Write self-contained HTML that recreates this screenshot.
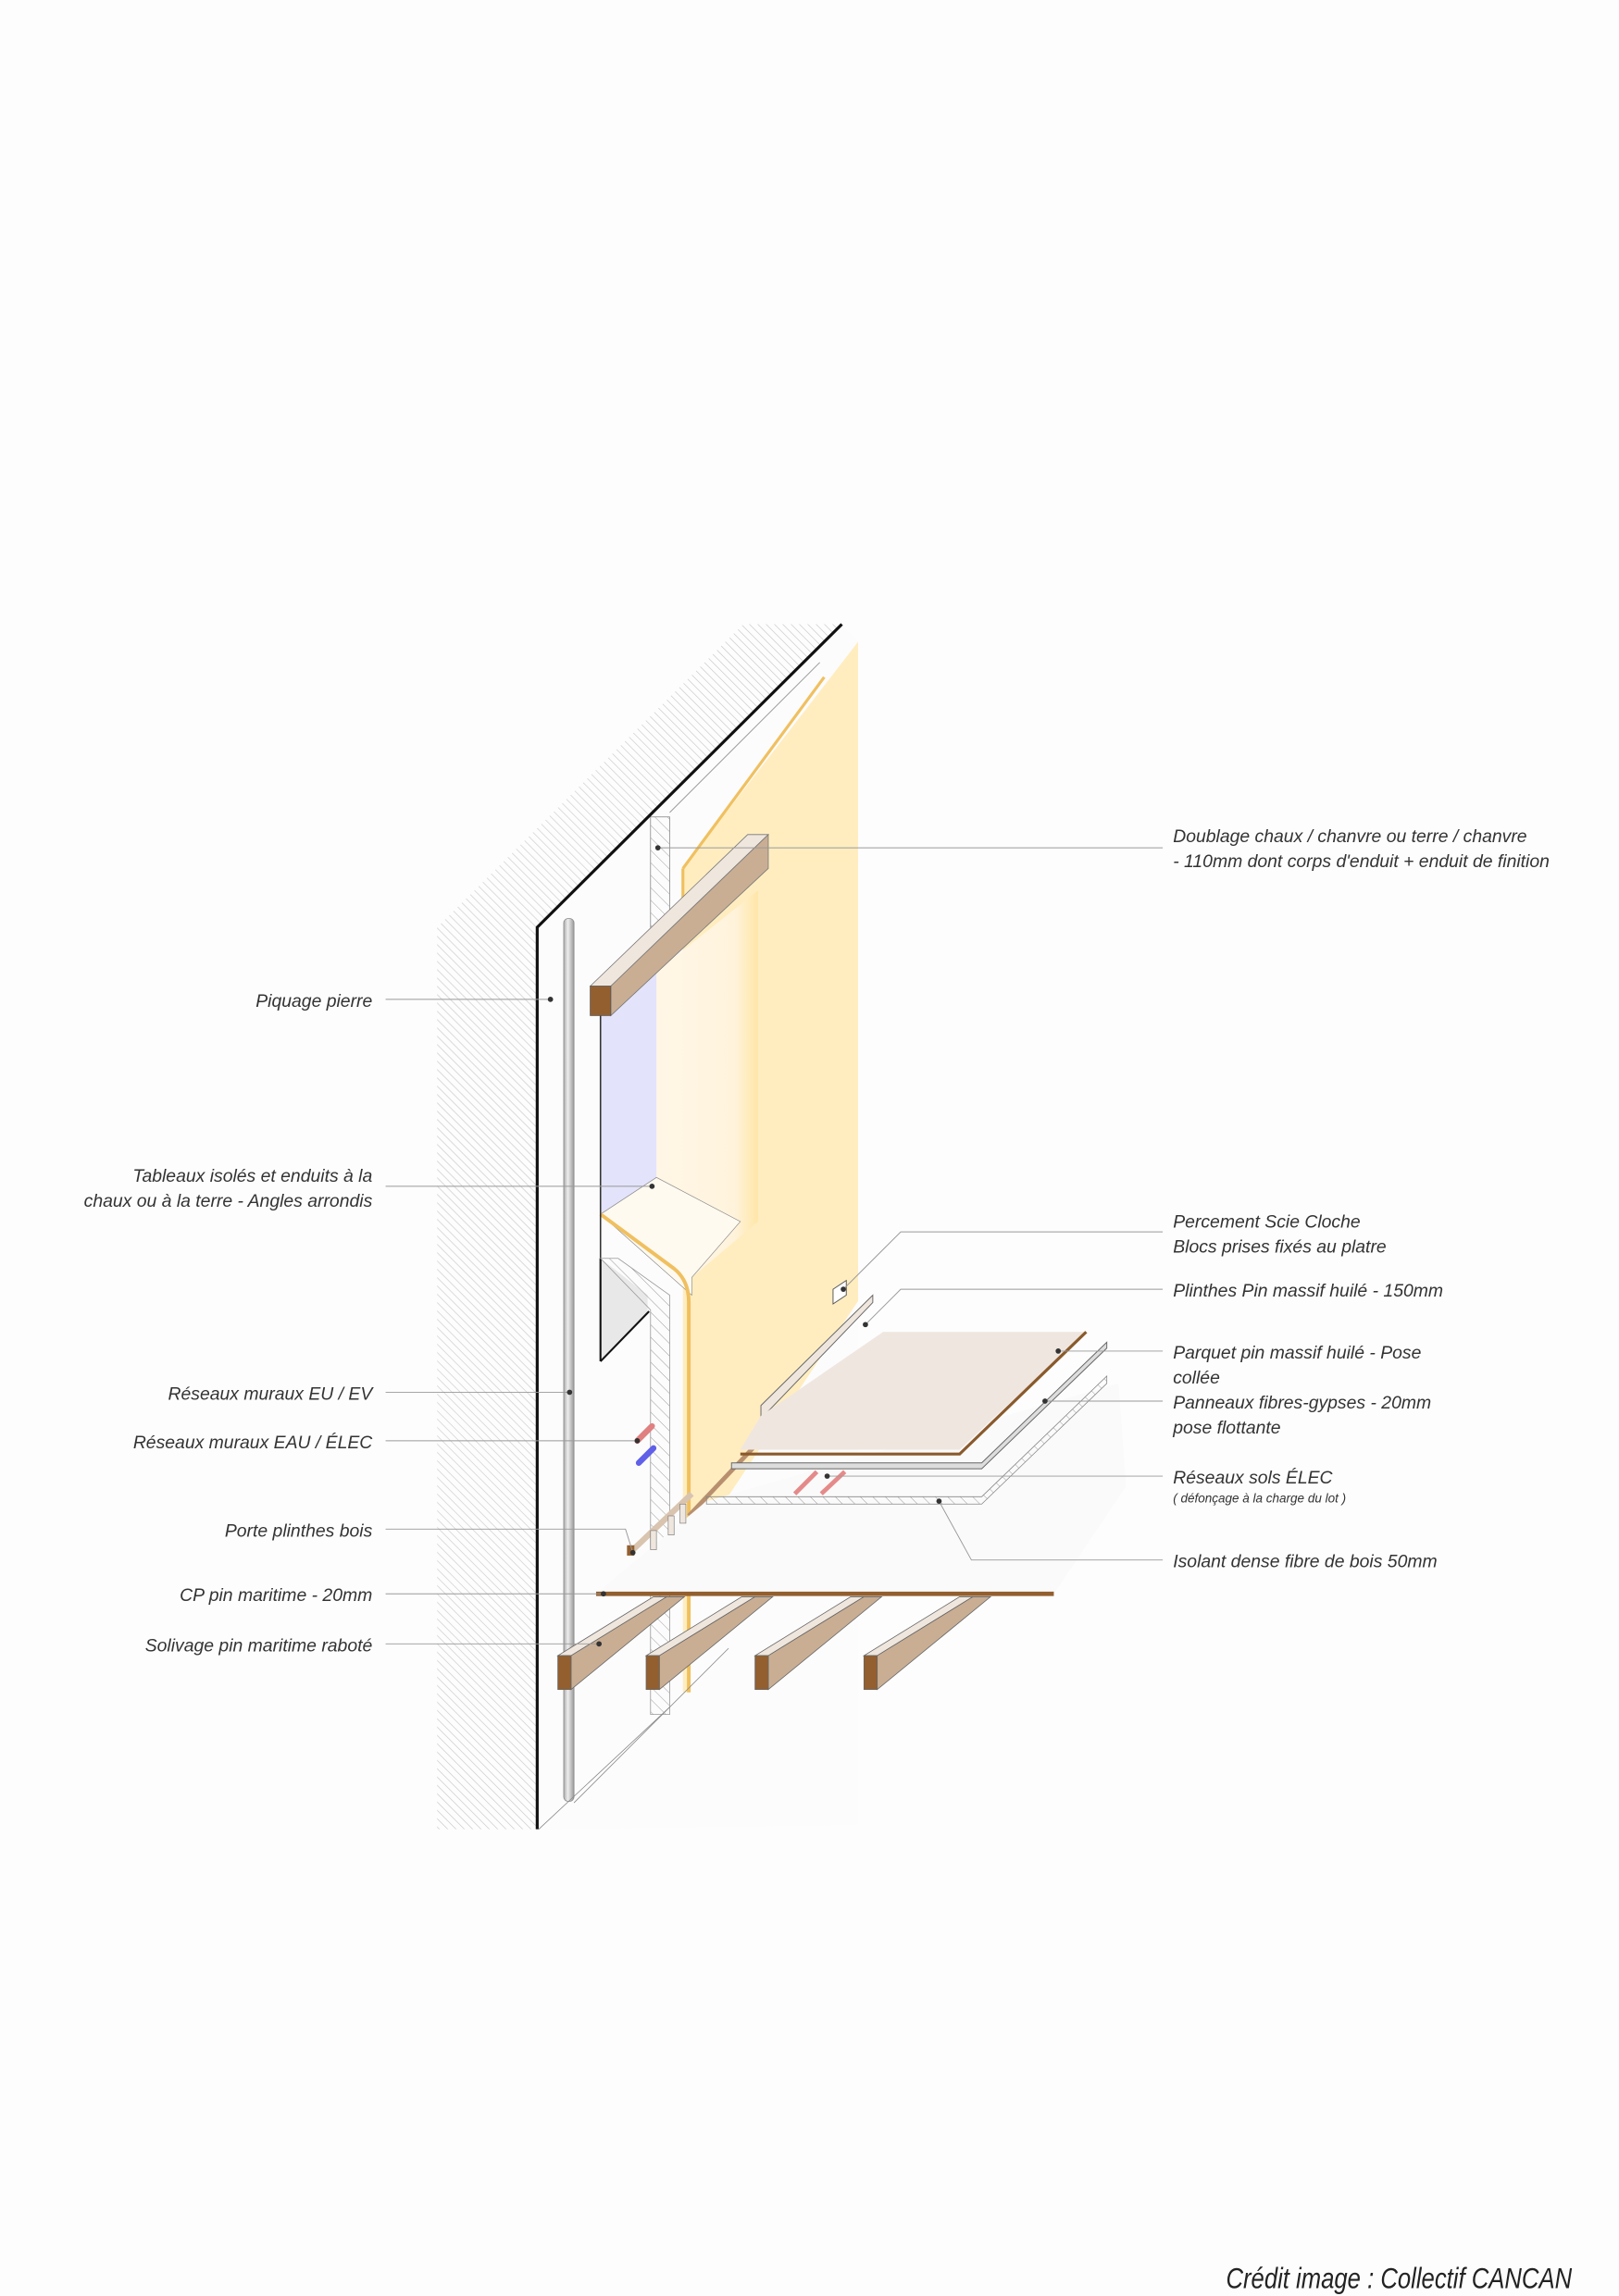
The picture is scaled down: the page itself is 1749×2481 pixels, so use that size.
<!DOCTYPE html>
<html><head><meta charset="utf-8"><style>
html,body{margin:0;padding:0;background:#fdfdfd;}
svg{display:block;}
text{font-family:"Liberation Sans Narrow","Liberation Sans",sans-serif;font-style:italic;fill:#333;font-size:12.2px;}
</style></head><body>
<svg width="1749" height="2481" viewBox="0 0 1100 1560" xmlns="http://www.w3.org/2000/svg">
<defs>
<pattern id="h1" width="4" height="4" patternUnits="userSpaceOnUse" patternTransform="rotate(-45)">
<line x1="0" y1="0" x2="0" y2="4" stroke="#c8c8c8" stroke-width="0.8"/></pattern>
<pattern id="h2" width="6" height="6" patternUnits="userSpaceOnUse" patternTransform="rotate(-45)">
<line x1="0" y1="0" x2="0" y2="6" stroke="#888" stroke-width="0.5"/></pattern>
<linearGradient id="pipe" x1="0" x2="1"><stop offset="0" stop-color="#aaa"/><stop offset="0.4" stop-color="#eee"/><stop offset="1" stop-color="#999"/></linearGradient>
<linearGradient id="glow" x1="0" x2="1"><stop offset="0" stop-color="#fff9ee"/><stop offset="0.85" stop-color="#fff3dc"/><stop offset="1" stop-color="#ffe6a8"/></linearGradient>
</defs>
<rect width="1100" height="1560" fill="#fdfdfd"/>
<polygon points="297,1243 297,630 505,424 572,424 365,630 365,1243" fill="url(#h1)"/>
<polygon points="365,630 572,424 583,436 583,1240 365,1243" fill="#fcfcfc"/>
<polygon points="464,590 583,436 583,884 468,1057 468,1150 464,1150" fill="#ffedc0"/>
<line x1="464" y1="590" x2="560" y2="460" stroke="#f0c060" stroke-width="2"/>
<line x1="464" y1="590" x2="464" y2="615" stroke="#f0c060" stroke-width="2"/>
<line x1="455" y1="552" x2="557" y2="450" stroke="#999" stroke-width="0.6"/>
<polygon points="446,660 515,605 515,830 470,868 408,825 446,800" fill="url(#glow)"/>
<polygon points="408,690 446,660 446,800 408,825" fill="#e3e3fb"/>
<polygon points="408,825 446,800 503,830 470,868 470,880" fill="#fffaf0" stroke="#888" stroke-width="0.4"/>
<path d="M408,825 L458,862 Q468,870 468,885 L468,1150" fill="none" stroke="#f0c060" stroke-width="2.5"/>
<line x1="408" y1="690" x2="408" y2="925" stroke="#333" stroke-width="1"/>
<polygon points="408,855 408,925 440,892 440,880" fill="#e8e8e8"/>
<line x1="408" y1="925" x2="441" y2="891" stroke="#111" stroke-width="1.3"/>
<line x1="408" y1="855" x2="408" y2="925" stroke="#111" stroke-width="1.3"/>
<polygon points="408,855 420,855 455,880 455,1165 442,1165 442,890" fill="url(#h2)" stroke="#999" stroke-width="0.5"/>
<rect x="442" y="555" width="13" height="75" fill="url(#h2)" stroke="#888" stroke-width="0.5"/>
<polygon points="401,670 508,567 522,567 415,670" fill="#efe6de" stroke="#777" stroke-width="0.5"/>
<polygon points="415,670 522,567 522,590 415,690" fill="#c9ae94" stroke="#777" stroke-width="0.5"/>
<rect x="401" y="670" width="14" height="20" fill="#935f2f" stroke="#555" stroke-width="0.5"/>
<polyline points="572,424 365,630 365,1243" fill="none" stroke="#111" stroke-width="2"/>
<rect x="383" y="624" width="7" height="600" rx="3" fill="url(#pipe)" stroke="#888" stroke-width="0.5"/>
<polygon points="566,876 575,870 575,880 566,886" fill="#fff" stroke="#555" stroke-width="0.6"/>
<polygon points="517,955 593,880 593,885 519,962 517,972" fill="#efe6de" stroke="#666" stroke-width="0.6"/>
<line x1="468" y1="1030" x2="520" y2="975" stroke="#b89070" stroke-width="3"/>
<polygon points="405,1083 716,1083 765,1010 760,940 480,1020" fill="#fafafa"/>
<polygon points="480,1017 667,1017 752,935 752,940 667,1022 480,1022" fill="url(#h2)" stroke="#888" stroke-width="0.5"/>
<polygon points="497,994 667,994 752,912 752,916 667,998 497,998" fill="#ddd" stroke="#666" stroke-width="0.6"/>
<polygon points="503,985 652,985 738,905 600,905 517,962" fill="#efe6e0"/>
<polyline points="503,988 652,988 738,905" fill="none" stroke="#8a5a2c" stroke-width="2"/>
<line x1="540" y1="1015" x2="555" y2="1000" stroke="#e58a8a" stroke-width="3"/>
<line x1="558" y1="1015" x2="574" y2="1000" stroke="#e58a8a" stroke-width="3"/>
<line x1="433" y1="979" x2="443" y2="969" stroke="#e08080" stroke-width="4" stroke-linecap="round"/>
<line x1="434" y1="994" x2="444" y2="984" stroke="#6060e8" stroke-width="4" stroke-linecap="round"/>
<line x1="428" y1="1055" x2="470" y2="1015" stroke="#d9c4b0" stroke-width="4"/>
<rect x="426" y="1050" width="5" height="7" fill="#935f2f"/>
<rect x="442" y="1040" width="4" height="13" fill="#efe6de" stroke="#777" stroke-width="0.4"/>
<rect x="454" y="1030" width="4" height="13" fill="#efe6de" stroke="#777" stroke-width="0.4"/>
<rect x="462" y="1022" width="4" height="13" fill="#efe6de" stroke="#777" stroke-width="0.4"/>
<line x1="405" y1="1083" x2="716" y2="1083" stroke="#935f2f" stroke-width="3"/>
<line x1="390" y1="1225" x2="495" y2="1120" stroke="#888" stroke-width="0.5"/>
<line x1="366" y1="1243" x2="455" y2="1160" stroke="#888" stroke-width="0.5"/>
<g stroke="#666" stroke-width="0.5">
<polygon points="379,1125 444,1085 453,1085 388,1125" fill="#efe6de"/>
<polygon points="388,1125 453,1085 465,1085 388,1148" fill="#c9ae94"/>
<rect x="379" y="1125" width="9" height="23" fill="#935f2f"/>
<polygon points="439,1125 504,1085 513,1085 448,1125" fill="#efe6de"/>
<polygon points="448,1125 513,1085 525,1085 448,1148" fill="#c9ae94"/>
<rect x="439" y="1125" width="9" height="23" fill="#935f2f"/>
<polygon points="513,1125 578,1085 587,1085 522,1125" fill="#efe6de"/>
<polygon points="522,1125 587,1085 599,1085 522,1148" fill="#c9ae94"/>
<rect x="513" y="1125" width="9" height="23" fill="#935f2f"/>
<polygon points="587,1125 652,1085 661,1085 596,1125" fill="#efe6de"/>
<polygon points="596,1125 661,1085 673,1085 596,1148" fill="#c9ae94"/>
<rect x="587" y="1125" width="9" height="23" fill="#935f2f"/>
</g>
<g stroke="#999" stroke-width="0.6" fill="none">
<line x1="447" y1="576" x2="790" y2="576"/>
<polyline points="573,876 612,837 790,837"/>
<polyline points="588,900 612,876 790,876"/>
<line x1="719" y1="918" x2="790" y2="918"/>
<line x1="710" y1="952" x2="790" y2="952"/>
<line x1="562" y1="1003" x2="790" y2="1003"/>
<polyline points="638,1020 660,1060 790,1060"/>
<line x1="262" y1="679" x2="374" y2="679"/>
<line x1="262" y1="806" x2="443" y2="806"/>
<line x1="262" y1="946" x2="387" y2="946"/>
<line x1="262" y1="979" x2="433" y2="979"/>
<polyline points="262,1039 425,1039 430,1055"/>
<line x1="262" y1="1083" x2="410" y2="1083"/>
<line x1="262" y1="1117" x2="407" y2="1117"/>
</g>
<g fill="#333">
<circle cx="447" cy="576" r="1.8"/><circle cx="573" cy="876" r="1.8"/><circle cx="588" cy="900" r="1.8"/>
<circle cx="719" cy="918" r="1.8"/><circle cx="710" cy="952" r="1.8"/><circle cx="562" cy="1003" r="1.8"/>
<circle cx="638" cy="1020" r="1.8"/><circle cx="374" cy="679" r="1.8"/><circle cx="443" cy="806" r="1.8"/>
<circle cx="387" cy="946" r="1.8"/><circle cx="433" cy="979" r="1.8"/><circle cx="430" cy="1055" r="1.8"/>
<circle cx="410" cy="1083" r="1.8"/><circle cx="407" cy="1117" r="1.8"/>
</g>
<text x="797" y="572">Doublage chaux / chanvre ou terre / chanvre</text>
<text x="797" y="589">- 110mm dont corps d'enduit + enduit de finition</text>
<text x="797" y="834">Percement Scie Cloche</text>
<text x="797" y="851">Blocs prises fixés au platre</text>
<text x="797" y="881">Plinthes Pin massif huilé - 150mm</text>
<text x="797" y="923">Parquet pin massif huilé - Pose</text>
<text x="797" y="940">collée</text>
<text x="797" y="957">Panneaux fibres-gypses - 20mm</text>
<text x="797" y="974">pose flottante</text>
<text x="797" y="1008">Réseaux sols ÉLEC</text>
<text x="797" y="1021" style="font-size:8.5px">( défonçage à la charge du lot )</text>
<text x="797" y="1065">Isolant dense fibre de bois 50mm</text>
<g text-anchor="end">
<text x="253" y="684">Piquage pierre</text>
<text x="253" y="803">Tableaux isolés et enduits à la</text>
<text x="253" y="820">chaux ou à la terre - Angles arrondis</text>
<text x="253" y="951">Réseaux muraux EU / EV</text>
<text x="253" y="984">Réseaux muraux EAU / ÉLEC</text>
<text x="253" y="1044">Porte plinthes bois</text>
<text x="253" y="1088">CP pin maritime - 20mm</text>
<text x="253" y="1122">Solivage pin maritime raboté</text>
</g>
<text x="833" y="1555" style="font-size:20px;fill:#222" textLength="235" lengthAdjust="spacingAndGlyphs">Crédit image : Collectif CANCAN</text>
</svg>
</body></html>
